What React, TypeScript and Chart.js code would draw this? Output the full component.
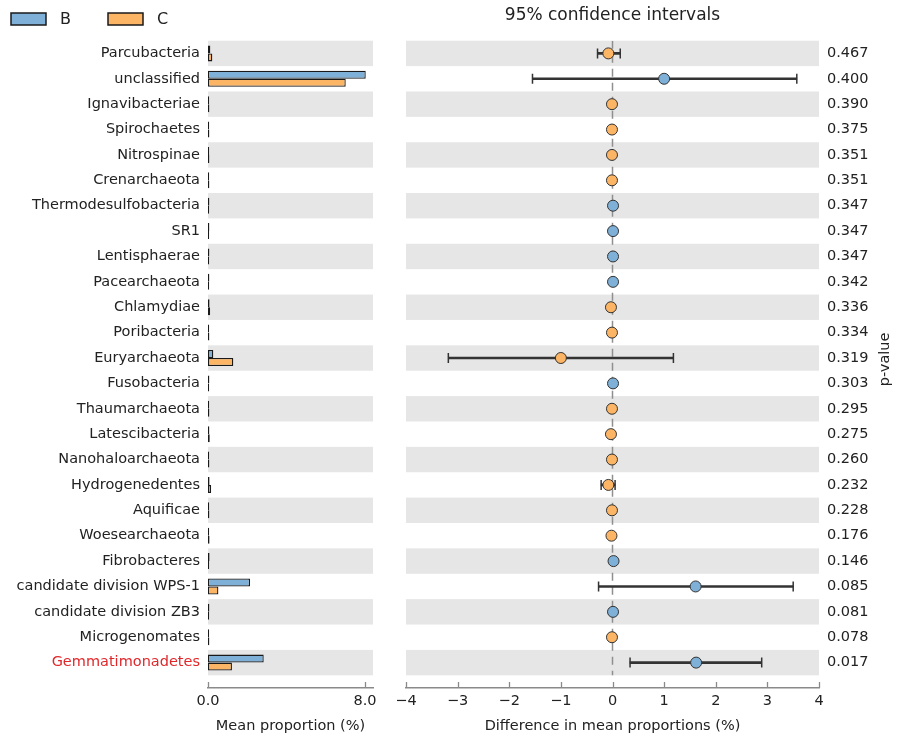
import React, { useEffect, useRef } from "react";
import { Chart, registerables } from "chart.js";

Chart.register(...registerables);

const FONT = "DejaVu Sans";

const categories = [
  "Parcubacteria", "unclassified", "Ignavibacteriae", "Spirochaetes", "Nitrospinae",
  "Crenarchaeota", "Thermodesulfobacteria", "SR1", "Lentisphaerae", "Pacearchaeota",
  "Chlamydiae", "Poribacteria", "Euryarchaeota", "Fusobacteria", "Thaumarchaeota",
  "Latescibacteria", "Nanohaloarchaeota", "Hydrogenedentes", "Aquificae", "Woesearchaeota",
  "Fibrobacteres", "candidate division WPS-1", "candidate division ZB3", "Microgenomates",
  "Gemmatimonadetes",
];
const highlighted = ["Gemmatimonadetes"];

const meanB = [
  0.12, 8.04, 0.06, 0.06, 0.06, 0.06, 0.07, 0.07, 0.07, 0.07,
  0.08, 0.06, 0.27, 0.07, 0.06, 0.07, 0.06, 0.08, 0.06, 0.06,
  0.08, 2.14, 0.07, 0.06, 2.84,
];
const meanC = [
  0.22, 7.02, 0.07, 0.07, 0.07, 0.07, 0.06, 0.06, 0.06, 0.06,
  0.11, 0.07, 1.29, 0.06, 0.07, 0.09, 0.07, 0.16, 0.07, 0.08,
  0.06, 0.53, 0.06, 0.07, 1.22,
];
const diffMean = [
  -0.08, 1.0, -0.01, -0.01, -0.01, -0.01, 0.01, 0.01, 0.01, 0.01,
  -0.03, -0.01, -1.0, 0.01, -0.01, -0.03, -0.01, -0.08, -0.01, -0.02,
  0.02, 1.61, 0.01, -0.01, 1.62,
];
const ciLow = [
  -0.29, -1.55, -0.03, -0.03, -0.03, -0.03, -0.01, -0.01, -0.01, -0.01,
  -0.06, -0.03, -3.18, -0.01, -0.03, -0.06, -0.03, -0.22, -0.03, -0.05,
  -0.01, -0.27, -0.01, -0.03, 0.34,
];
const ciHigh = [
  0.15, 3.57, 0.01, 0.01, 0.01, 0.01, 0.03, 0.03, 0.03, 0.03,
  0.0, 0.01, 1.18, 0.03, 0.01, 0.0, 0.01, 0.05, 0.01, 0.01,
  0.05, 3.5, 0.03, 0.01, 2.89,
];
const pValues = [
  0.467, 0.4, 0.39, 0.375, 0.351, 0.351, 0.347, 0.347, 0.347, 0.342,
  0.336, 0.334, 0.319, 0.303, 0.295, 0.275, 0.26, 0.232, 0.228, 0.176,
  0.146, 0.085, 0.081, 0.078, 0.017,
];
const groupNames = ["B", "C"];
const leftTicks = [0, 8];
const diffTicks = [-4, -3, -2, -1, 0, 1, 2, 3, 4];

const BLUE = "#7fb1d8";
const ORANGE = "#fcb465";
const BAND = "#e6e6e6";
const TEXT = "#222222";
const AXIS = "#8a8a8a";
const EDGE = "#1a1a1a";
const RED = "#e0282b";

const bandsPlugin = {
  id: "bands",
  beforeDatasetsDraw(chart: any) {
    const { ctx, chartArea } = chart;
    const y = chart.scales.y;
    ctx.save();
    ctx.fillStyle = BAND;
    categories.forEach((_, i) => {
      if (i % 2 !== 0) return;
      const a = y.getPixelForValue(i - 0.5);
      const b = y.getPixelForValue(i + 0.5);
      ctx.fillRect(chartArea.left, Math.min(a, b), chartArea.right - chartArea.left, Math.abs(b - a));
    });
    ctx.restore();
  },
};

const inwardTicksPlugin = {
  id: "inwardTicks",
  afterDraw(chart: any) {
    const s = chart.scales.x;
    const ctx = chart.ctx;
    ctx.save();
    ctx.strokeStyle = AXIS;
    ctx.lineWidth = 1.3;
    s.ticks.forEach((t: any) => {
      const px = Math.round(s.getPixelForValue(t.value)) + 0.5;
      ctx.beginPath();
      ctx.moveTo(px, s.top);
      ctx.lineTo(px, s.top - 6);
      ctx.stroke();
    });
    ctx.restore();
  },
};

const legendPlugin = {
  id: "groupLegend",
  afterDraw(chart: any) {
    const ctx = chart.ctx;
    ctx.save();
    chart.data.datasets.forEach((ds: any, i: number) => {
      const x0 = 11 + i * 97;
      ctx.fillStyle = ds.backgroundColor;
      ctx.fillRect(x0, 13, 35, 12);
      ctx.strokeStyle = EDGE;
      ctx.lineWidth = 1.5;
      ctx.strokeRect(x0, 13, 35, 12);
      ctx.fillStyle = TEXT;
      ctx.font = `16px "${FONT}"`;
      ctx.textBaseline = "middle";
      ctx.textAlign = "left";
      ctx.fillText(ds.label, x0 + 49, 19.5);
    });
    ctx.restore();
  },
};

const pLabelPlugin = {
  id: "pLabel",
  afterDraw(chart: any) {
    const ctx = chart.ctx;
    const ca = chart.chartArea;
    ctx.save();
    ctx.translate(885, (ca.top + ca.bottom) / 2 - 5);
    ctx.rotate(-Math.PI / 2);
    ctx.fillStyle = TEXT;
    ctx.font = `14.5px "${FONT}"`;
    ctx.textAlign = "center";
    ctx.textBaseline = "middle";
    ctx.fillText("p-value", 0, 0);
    ctx.restore();
  },
};

const yRowScale = (labels: (i: number) => string, position: string, width: number, pad: number, colorFn?: any) => ({
  type: "linear",
  position,
  min: -0.5,
  max: 25.0,
  reverse: true,
  offset: false,
  afterBuildTicks: (s: any) => {
    s.ticks = categories.map((_, i) => ({ value: i }));
  },
  afterFit: (s: any) => {
    s.width = width;
  },
  grid: { display: false, drawTicks: false, offset: false },
  border: { display: false },
  ticks: {
    autoSkip: false,
    padding: pad,
    font: { family: FONT, size: 14.5 },
    color: colorFn || TEXT,
    callback: (v: any) => labels(Number(v)),
  },
});

export default function App() {
  const leftRef = useRef<HTMLCanvasElement>(null);
  const rightRef = useRef<HTMLCanvasElement>(null);

  useEffect(() => {
    const left = new Chart(leftRef.current as HTMLCanvasElement, {
      type: "bar",
      data: {
        datasets: [meanB, meanC].map((vals, g) => ({
          label: groupNames[g],
          data: vals.map((v, i) => ({ x: v, y: i })),
          backgroundColor: g === 0 ? BLUE : ORANGE,
          borderColor: EDGE,
          borderWidth: 1.3,
          borderSkipped: false,
          inflateAmount: 0,
          barThickness: 8,
        })),
      },
      options: {
        indexAxis: "y",
        responsive: false,
        animation: false,
        layout: { padding: { left: 0, right: 533, top: 40.7, bottom: 0 } },
        plugins: { legend: { display: false }, tooltip: { enabled: false } },
        scales: {
          x: {
            type: "linear",
            position: "bottom",
            min: 0,
            max: 8.41,
            afterBuildTicks: (s: any) => {
              s.ticks = leftTicks.map((v) => ({ value: v }));
            },
            afterFit: (s: any) => {
              s.height = 49;
            },
            grid: { display: false, drawTicks: false },
            border: { display: true, color: AXIS, width: 1.5 },
            ticks: {
              padding: 5,
              font: { family: FONT, size: 14.5 },
              color: TEXT,
              callback: (v: any) => Number(v).toFixed(1),
            },
            title: {
              display: true,
              text: "Mean proportion (%)",
              font: { family: FONT, size: 14.5 },
              color: TEXT,
              padding: { top: 0, bottom: 2.3 },
            },
          },
          y: yRowScale(
            (i) => categories[i] ?? "",
            "left",
            208,
            8,
            (ctx: any) => (ctx.tick && highlighted.includes(categories[ctx.tick.value]) ? RED : TEXT)
          ),
        },
      } as any,
      plugins: [bandsPlugin, inwardTicksPlugin, legendPlugin],
    } as any);

    const right = new Chart(rightRef.current as HTMLCanvasElement, {
      type: "scatter",
      data: {
        datasets: [
          {
            type: "scatter",
            label: "mean",
            order: 0,
            data: diffMean.map((v, i) => ({ x: v, y: i })),
            pointRadius: 5.5,
            pointBorderWidth: 1,
            pointBorderColor: "#333333",
            pointBackgroundColor: diffMean.map((v) => (v >= 0 ? BLUE : ORANGE)),
          },
          {
            type: "scatter",
            label: "capLow",
            order: 1,
            data: ciLow.map((v, i) => ({ x: v, y: i })),
            pointStyle: "line",
            rotation: 90,
            pointRadius: 5,
            pointBorderWidth: 1.5,
            pointBorderColor: "#333333",
          },
          {
            type: "scatter",
            label: "capHigh",
            order: 1,
            data: ciHigh.map((v, i) => ({ x: v, y: i })),
            pointStyle: "line",
            rotation: 90,
            pointRadius: 5,
            pointBorderWidth: 1.5,
            pointBorderColor: "#333333",
          },
          {
            type: "bar",
            label: "ci",
            order: 2,
            indexAxis: "y",
            grouped: false,
            data: ciLow.map((lo, i) => ({ x: [lo, ciHigh[i]], y: i })),
            backgroundColor: "#333333",
            borderWidth: 0,
            barThickness: 2,
          },
          {
            type: "line",
            label: "zero",
            order: 3,
            data: [
              { x: 0, y: -0.5 },
              { x: 0, y: categories.length - 0.5 },
            ],
            borderColor: "#8f8f8f",
            borderWidth: 1.5,
            borderDash: [8, 6],
            pointRadius: 0,
            showLine: true,
          },
        ],
      },
      options: {
        responsive: false,
        animation: false,
        layout: { padding: { left: 406, right: 0, top: 0, bottom: 0 } },
        plugins: {
          legend: { display: false },
          tooltip: { enabled: false },
          title: {
            display: true,
            fullSize: false,
            text: "95% confidence intervals",
            font: { family: FONT, size: 17, weight: "normal" },
            color: TEXT,
            padding: { top: 5.5, bottom: 14.8 },
          },
        },
        scales: {
          x: {
            type: "linear",
            position: "bottom",
            min: -4,
            max: 4,
            afterBuildTicks: (s: any) => {
              s.ticks = diffTicks.map((v) => ({ value: v }));
            },
            afterFit: (s: any) => {
              s.height = 49;
            },
            grid: { display: false, drawTicks: false },
            border: { display: true, color: AXIS, width: 1.5 },
            ticks: {
              padding: 5,
              font: { family: FONT, size: 14.5 },
              color: TEXT,
              callback: (v: any) => (Number(v) < 0 ? "\u2212" + Math.abs(Number(v)) : String(v)),
            },
            title: {
              display: true,
              text: "Difference in mean proportions (%)",
              font: { family: FONT, size: 14.5 },
              color: TEXT,
              padding: { top: 0, bottom: 2.3 },
            },
          },
          y: yRowScale((i) => (pValues[i] !== undefined ? pValues[i].toFixed(3) : ""), "right", 87, 8),
        },
      } as any,
      plugins: [bandsPlugin, inwardTicksPlugin, pLabelPlugin],
    } as any);

    return () => {
      left.destroy();
      right.destroy();
    };
  }, []);

  return (
    <div style={{ position: "fixed", left: 0, top: 0, width: 906, height: 737, background: "#ffffff" }}>
      <canvas ref={leftRef} width={906} height={737} style={{ position: "absolute", left: 0, top: 0 }} />
      <canvas ref={rightRef} width={906} height={737} style={{ position: "absolute", left: 0, top: 0 }} />
    </div>
  );
}
